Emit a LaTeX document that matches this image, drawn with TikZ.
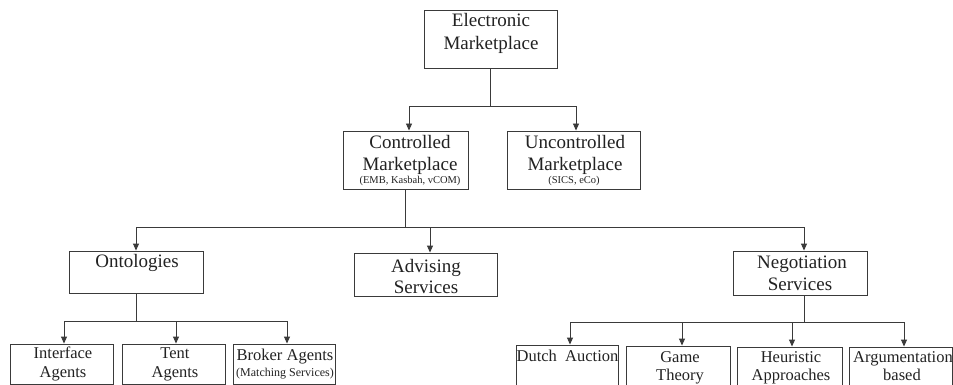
\documentclass[tikz,border=0pt]{standalone}
\usepackage{fontspec}
\setmainfont{Liberation Serif}
\usetikzlibrary{arrows.meta}
\definecolor{ln}{HTML}{3A3A3A}
\definecolor{tx}{HTML}{222222}
\begin{document}
\begin{tikzpicture}[x=1pt,y=-1pt,
  box/.style={draw=ln,line width=0.9pt,inner sep=0pt,rectangle},
  big/.style={anchor=base,inner sep=0pt,text=tx,font=\fontsize{19}{22}\selectfont},
  sml/.style={anchor=base,inner sep=0pt,text=tx,font=\fontsize{16.5}{19}\selectfont},
  tiny/.style={anchor=base,inner sep=0pt,text=tx,font=\fontsize{10.5}{12}\selectfont},
  mtiny/.style={anchor=base,inner sep=0pt,text=tx,font=\fontsize{12}{14}\selectfont},
  con/.style={draw=ln,line width=0.9pt},
  arr/.style={con,-{Triangle[length=7pt,width=6pt]}}]
\useasboundingbox (0,0) rectangle (953,385);
\clip (0,0) rectangle (953,385);
\fill[white] (0,0) rectangle (953,385);

% boxes
\node[box,minimum width=133pt,minimum height=58pt] (E) at (490.5,39) {};
\node[box,minimum width=125pt,minimum height=58pt] (C) at (405.5,160) {};
\node[box,minimum width=133pt,minimum height=58pt] (U) at (573.5,160) {};
\node[box,minimum width=134pt,minimum height=42pt] (O) at (136,272) {};
\node[box,minimum width=143pt,minimum height=43pt] (A) at (425.5,274.5) {};
\node[box,minimum width=134pt,minimum height=44pt] (N) at (800,273) {};
\node[box,minimum width=103pt,minimum height=40pt] (I) at (61.5,364) {};
\node[box,minimum width=103pt,minimum height=40pt] (T) at (173.5,364) {};
\node[box,minimum width=102pt,minimum height=40pt] (B) at (284,364) {};
\node[box,minimum width=102pt,minimum height=50pt] (D) at (567,370) {};
\node[box,minimum width=104pt,minimum height=49pt] (G) at (678,370.5) {};
\node[box,minimum width=105pt,minimum height=48pt] (H) at (789.5,371) {};
\node[box,minimum width=103pt,minimum height=48pt] (R) at (900.5,371) {};

% connectors
\coordinate (j1) at (490.5,106);
\draw[con] (E.south) -- (j1);
\draw[arr] (j1) -| ([xshift=3.5pt]C.north);
\draw[arr] (j1) -| ([xshift=2.5pt]U.north);

\coordinate (j2) at (405.5,227);
\draw[con] (C.south) -- (j2);
\draw[arr] (j2) -| (O.north);
\draw[arr] (j2) -| ([xshift=4.5pt]A.north);
\draw[arr] (j2) -| ([xshift=4pt]N.north);

\coordinate (j3) at (136,321);
\draw[con] (O.south) -- (j3);
\draw[arr] (j3) -| ([xshift=2.5pt]I.north);
\draw[arr] (j3) -| ([xshift=2.5pt]T.north);
\draw[arr] (j3) -| ([xshift=3pt]B.north);

\coordinate (j4) at (804,322);
\draw[con] ([xshift=4pt]N.south) -- (j4);
\draw[arr] (j4) -| ([xshift=3pt]D.north);
\draw[arr] (j4) -| ([xshift=4pt]G.north);
\draw[arr] (j4) -| ([xshift=2.5pt]H.north);
\draw[arr] (j4) -| ([xshift=3.5pt]R.north);

% texts
\node[big] (Et1) at (491,27) {Electronic};
\node[big] (Et2) at (491,50) {Marketplace};
\node[big] (Ct1) at (410,149) {Controlled};
\node[big] (Ct2) at (410,170) {Marketplace};
\node[tiny] (Ct3) at (410,183) {(EMB, Kasbah, vCOM)};
\node[big] (Ut1) at (575,149) {Uncontrolled};
\node[big] (Ut2) at (575,170) {Marketplace};
\node[tiny] (Ut3) at (574,183) {(SICS, eCo)};
\node[big] (Ot) at (137,267) {Ontologies};
\node[big] (At1) at (426,272) {Advising};
\node[big] (At2) at (426,293) {Services};
\node[big] (Nt1) at (802,268) {Negotiation};
\node[big] (Nt2) at (800,290) {Services};
\node[sml] (It1) at (63,358) {Interface};
\node[sml] (It2) at (63,377) {Agents};
\node[sml] (Tt1) at (175,358) {Tent};
\node[sml] (Tt2) at (175,377) {Agents};
\node[sml] (Bt1) at (285,360) {Broker Agents};
\node[mtiny] (Bt2) at (285,376) {(Matching Services)};
\node[sml] (Dt) at (567.5,361) {Dutch\ \ Auction};
\node[sml] (Gt1) at (680,362) {Game};
\node[sml] (Gt2) at (680,380) {Theory};
\node[sml] (Ht1) at (791,362) {Heuristic};
\node[sml] (Ht2) at (791,380) {Approaches};
\node[sml] (Rt1) at (903,362) {Argumentation};
\node[sml] (Rt2) at (902,380) {based};
\end{tikzpicture}
\end{document}
